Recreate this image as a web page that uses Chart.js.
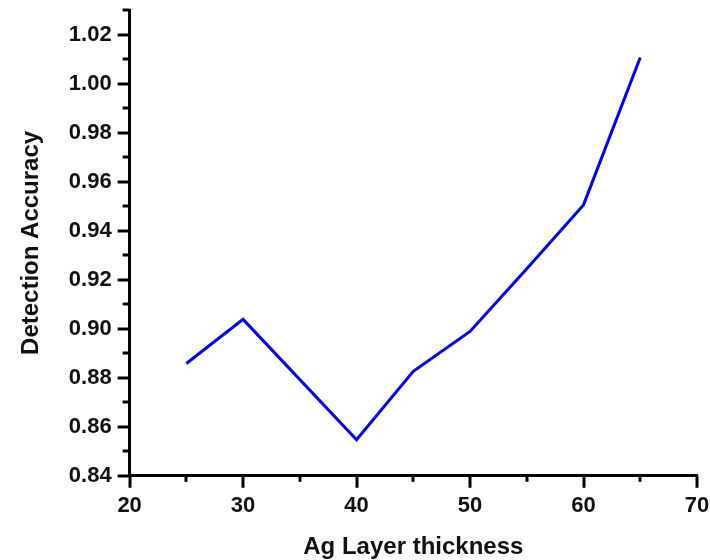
<!DOCTYPE html>
<html>
<head>
<meta charset="utf-8">
<script src="https://cdn.jsdelivr.net/npm/chart.js@4/dist/chart.umd.min.js"></script>
<style>
    body { margin: 0; background: #fff; }
    #chart_container { width: 710px; height: 560px; }
</style>
</head>
<body>
<div id="chart_container">
    <canvas id="accuracy_chart"></canvas>
</div>
<script>
    // data
    const thickness = [25, 30, 40, 45, 50, 55, 60, 65];
    const accuracy = [0.8858, 0.9038, 0.8547, 0.8826, 0.8989, 0.9245, 0.9505, 1.0106];
    const xTicks = [20, 30, 40, 50, 60, 70];
    const xMinorTicks = [25, 35, 45, 55, 65];
    const yTicks = [0.84, 0.86, 0.88, 0.90, 0.92, 0.94, 0.96, 0.98, 1.00, 1.02];
    const yMinorTicks = [0.85, 0.87, 0.89, 0.91, 0.93, 0.95, 0.97, 0.99, 1.01, 1.03];

    const font = 'Liberation Sans, Arial, sans-serif';

    // outward major / minor ticks like the origin plot
    const tickMarks = {
        id: 'tickMarks',
        afterDraw(chart) {
            const c = chart.ctx;
            const x = chart.scales.x, y = chart.scales.y;
            c.save();
            c.strokeStyle = '#000';
            c.lineWidth = 3;
            c.lineCap = 'butt';
            const bottom = chart.chartArea.bottom, left = chart.chartArea.left;
            xTicks.forEach(v => {
                const px = Math.round(x.getPixelForValue(v));
                c.beginPath(); c.moveTo(px, bottom); c.lineTo(px, bottom + 12); c.stroke();
            });
            xMinorTicks.forEach(v => {
                const px = Math.round(x.getPixelForValue(v));
                c.beginPath(); c.moveTo(px, bottom); c.lineTo(px, bottom + 6); c.stroke();
            });
            yTicks.forEach(v => {
                const py = Math.round(y.getPixelForValue(v));
                c.beginPath(); c.moveTo(left, py); c.lineTo(left - 12, py); c.stroke();
            });
            yMinorTicks.forEach(v => {
                const py = Math.round(y.getPixelForValue(v));
                c.beginPath(); c.moveTo(left, py); c.lineTo(left - 7, py); c.stroke();
            });
            c.restore();
        }
    };

    new Chart(document.getElementById('accuracy_chart'), {
        type: 'line',
        data: {
            datasets: [{
                data: thickness.map((t, i) => ({ x: t, y: accuracy[i] })),
                borderColor: '#0000ff',
                borderWidth: 3,
                pointRadius: 0,
                tension: 0,
                fill: false
            }]
        },
        options: {
            responsive: true,
            maintainAspectRatio: false,
            animation: false,
            layout: { padding: { top: 10, right: 13, left: 17, bottom: -2 } },
            plugins: { legend: { display: false }, tooltip: { enabled: false } },
            scales: {
                x: {
                    type: 'linear',
                    min: 20,
                    max: 70,
                    afterBuildTicks: s => { s.ticks = xTicks.map(v => ({ value: v })); },
                    afterFit: s => { s.paddingLeft = 0; s.paddingRight = 0; },
                    grid: { drawOnChartArea: false, drawTicks: false },
                    border: { color: '#000', width: 3 },
                    ticks: { color: '#111', padding: 17, maxRotation: 0, font: { family: font, size: 22, weight: 'bold' } },
                    title: {
                        display: true,
                        text: 'Ag Layer thickness',
                        color: '#111',
                        padding: { top: -3, bottom: 0 },
                        font: { family: font, size: 24, weight: 'bold' }
                    }
                },
                y: {
                    type: 'linear',
                    min: 0.84,
                    max: 1.03,
                    afterBuildTicks: s => { s.ticks = yTicks.map(v => ({ value: v })); },
                    afterFit: s => { s.paddingTop = 0; s.paddingBottom = 0; },
                    grid: { drawOnChartArea: false, drawTicks: false },
                    border: { color: '#000', width: 3 },
                    ticks: {
                        color: '#111',
                        padding: 18,
                        font: { family: font, size: 22, weight: 'bold' },
                        callback: v => v.toFixed(2)
                    },
                    title: {
                        display: true,
                        text: 'Detection Accuracy',
                        color: '#111',
                        padding: { top: 0, bottom: 5 },
                        font: { family: font, size: 24, weight: 'bold' }
                    }
                }
            }
        },
        plugins: [tickMarks]
    });
</script>
</body>
</html>
